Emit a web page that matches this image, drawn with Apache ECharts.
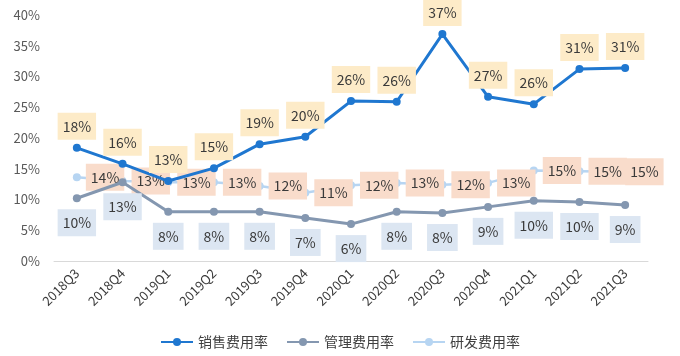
<!DOCTYPE html>
<html><head><meta charset="utf-8">
<script src="https://cdn.jsdelivr.net/npm/echarts@6/dist/echarts.min.js"></script>
<style>html,body{margin:0;padding:0;background:#fff}#c{width:680px;height:356px}</style>
</head><body><div id="c"></div>
<script>
var categories = ['2018Q3','2018Q4','2019Q1','2019Q2','2019Q3','2019Q4','2020Q1','2020Q2','2020Q3','2020Q4','2021Q1','2021Q2','2021Q3'];
var salesRate = [18.4, 15.8, 13.0, 15.1, 19.0, 20.2, 26.0, 25.9, 36.9, 26.7, 25.5, 31.2, 31.4];
var adminRate = [10.2, 12.8, 8.0, 8.0, 8.0, 7.0, 6.0, 8.0, 7.8, 8.8, 9.8, 9.6, 9.1];
var rdRate = [13.6, 13.0, 12.8, 12.8, 12.2, 11.1, 12.3, 12.7, 12.4, 12.7, 14.7, 14.6, 14.5];
var seriesNames = ['销售费用率', '管理费用率', '研发费用率'];
var yTicks = [0, 5, 10, 15, 20, 25, 30, 35, 40];

var FONT = "'Noto Sans CJK SC', 'Microsoft YaHei', sans-serif";
function lbl(pos, bg, dist) {
  return {
    show: true, position: pos, distance: dist,
    formatter: function (p) { return Math.round(p.value) + '%'; },
    backgroundColor: bg, padding: [5, 5, 5, 5], lineHeight: 17,
    color: '#3a3a3a', fontSize: 14, fontFamily: FONT
  };
}
var rdData = rdRate.map(function (v, i) {
  if (i === rdRate.length - 1) return { value: v, label: { offset: [-9, 0] } };
  return v;
});
var chart = echarts.init(document.getElementById('c'), null, { renderer: 'canvas' });
chart.setOption({
  animation: false,
  textStyle: { fontFamily: FONT },
  grid: { left: 54, right: 32, top: 15, bottom: 95, containLabel: false },
  legend: {
    bottom: 2, left: 'center', itemWidth: 32, itemHeight: 10, itemGap: 18,
    textStyle: { fontSize: 14, color: '#404040', fontFamily: FONT },
    data: seriesNames
  },
  xAxis: {
    type: 'category', data: categories, boundaryGap: true,
    axisLine: { lineStyle: { color: '#d9d9d9', width: 1 } },
    axisTick: { show: false },
    axisLabel: { rotate: 45, color: '#3a3a3a', fontSize: 13, margin: 10, fontFamily: FONT }
  },
  yAxis: {
    type: 'value', min: yTicks[0], max: yTicks[yTicks.length - 1], interval: 5,
    axisLine: { show: false }, axisTick: { show: false }, splitLine: { show: false },
    axisLabel: { formatter: '{value}%', color: '#595959', fontSize: 13, margin: 14, fontFamily: FONT }
  },
  series: [
    { name: seriesNames[0], type: 'line', data: salesRate, symbol: 'circle', symbolSize: 8,
      z: 4, lineStyle: { width: 3, color: '#1f77d0' }, itemStyle: { color: '#1f77d0' },
      label: lbl('top', '#fdebc8', 4) },
    { name: seriesNames[1], type: 'line', data: adminRate, symbol: 'circle', symbolSize: 8,
      z: 3, lineStyle: { width: 3, color: '#8497b0' }, itemStyle: { color: '#8497b0' },
      label: lbl('bottom', '#dce6f2', 7) },
    { name: seriesNames[2], type: 'line', data: rdData, symbol: 'circle', symbolSize: 8,
      z: 2, lineStyle: { width: 2.5, color: '#b7d5f2' }, itemStyle: { color: '#b7d5f2' },
      label: lbl('right', '#f9dccb', 5) }
  ]
});
</script></body></html>
